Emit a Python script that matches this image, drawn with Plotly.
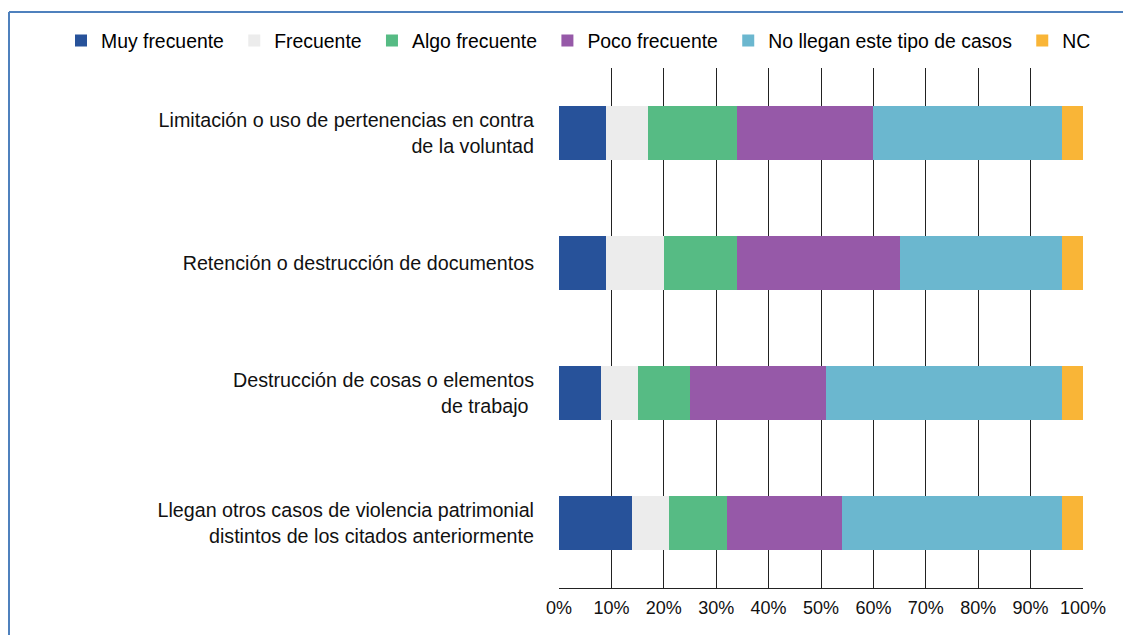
import plotly.graph_objects as go

categories = [
    "Limitación o uso de pertenencias en contra<br>de la voluntad",
    "Retención o destrucción de documentos",
    "Destrucción de cosas o elementos<br>de trabajo ",
    "Llegan otros casos de violencia patrimonial<br>distintos de los citados anteriormente",
]
series_names = ["Muy frecuente", "Frecuente", "Algo frecuente", "Poco frecuente",
                "No llegan este tipo de casos", "NC"]
muy_frecuente = [9, 9, 8, 14]
frecuente = [8, 11, 7, 7]
algo_frecuente = [17, 14, 10, 11]
poco_frecuente = [26, 31, 26, 22]
no_llegan = [36, 31, 45, 42]
nc = [4, 4, 4, 4]
series_values = [muy_frecuente, frecuente, algo_frecuente, poco_frecuente, no_llegan, nc]
colors = ["#27529A", "#ECECEC", "#56BB84", "#9659A8", "#6BB7CF", "#F9B537"]
tick_values = list(range(0, 101, 10))
tick_labels = [f"{v}%" for v in tick_values]

FONT = "Liberation Sans, Arial, Helvetica, sans-serif"

fig = go.Figure()
for name, vals, col in zip(series_names, series_values, colors):
    fig.add_trace(go.Bar(
        y=categories, x=vals, name=name + "\u00a0", orientation="h",
        marker=dict(color=col, line=dict(width=0)),
    ))

# page body has an 8px margin; figure coordinates = screen - 8
OFF = 8
W, H = 1131 - OFF, 635 - OFF
L, R, T, B = 559 - OFF, 1131 - 1083, 68 - OFF, 635 - 588
pw, ph = W - L - R, H - T - B

def px_x(p):  # screen px -> paper
    return (p - OFF - L) / pw

def px_y(p):
    return (H - B - (p - OFF)) / ph

frame_color = "#4F81BD"
fig.add_shape(type="line", xref="paper", yref="paper",
              x0=px_x(9), x1=px_x(1140), y0=px_y(12), y1=px_y(12),
              line=dict(color=frame_color, width=2))
fig.add_shape(type="line", xref="paper", yref="paper",
              x0=px_x(9), x1=px_x(9), y0=px_y(12), y1=px_y(640),
              line=dict(color=frame_color, width=2))

fig.update_layout(
    width=W, height=H,
    margin=dict(l=L, r=R, t=T, b=B),
    barmode="stack",
    bargap=0.59,
    plot_bgcolor="white",
    paper_bgcolor="white",
    font=dict(family=FONT, size=18, color="#111111"),
    legend=dict(
        orientation="h", x=px_x(61), xanchor="left", y=px_y(41), yanchor="middle",
        font=dict(family=FONT, size=19.4, color="#000000"),
        itemclick=False, traceorder="normal",
        bgcolor="rgba(0,0,0,0)",
    ),
    xaxis=dict(
        range=[0, 100], tickvals=tick_values, ticktext=tick_labels,
        showgrid=True, gridcolor="#222222", gridwidth=1,
        showline=True, linecolor="#222222", linewidth=1,
        zeroline=False, ticks="", ticklabelstandoff=3,
        tickfont=dict(family=FONT, size=18, color="#111111"),
        fixedrange=True,
    ),
    yaxis=dict(
        autorange="reversed", showgrid=False, showline=False, zeroline=False,
        ticks="", ticklabelstandoff=24,
        tickfont=dict(family=FONT, size=19.7, color="#111111"),
        fixedrange=True,
    ),
    showlegend=True,
)

fig.write_html("out.html")
